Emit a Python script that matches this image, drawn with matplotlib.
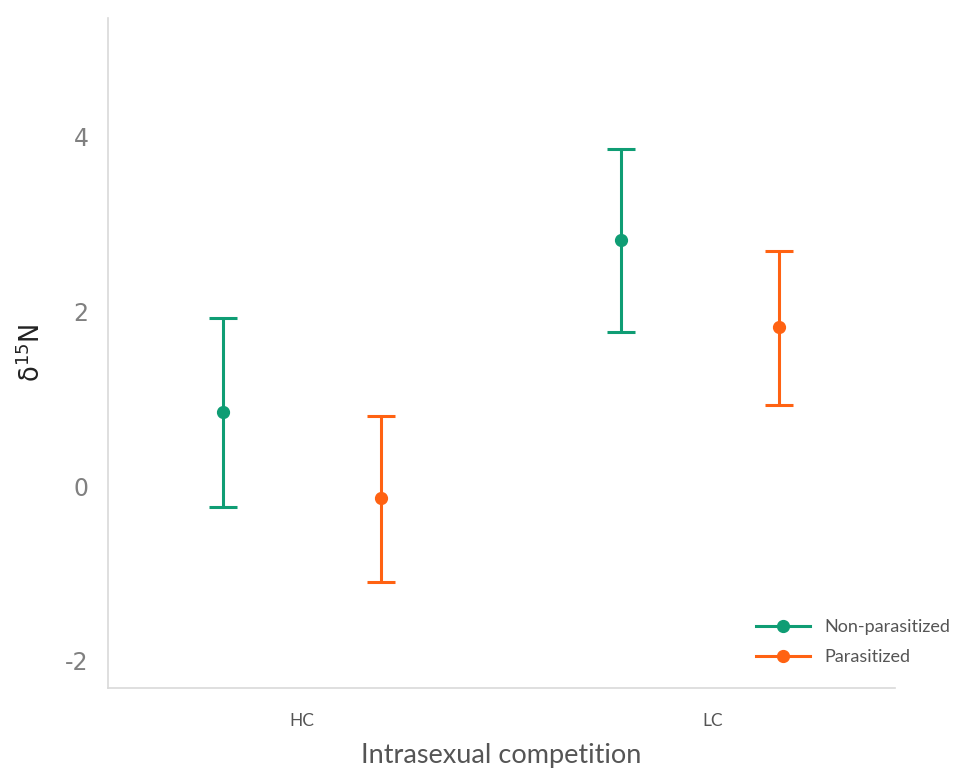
import matplotlib.pyplot as plt
import numpy as np
from matplotlib.lines import Line2D

# data
groups = ["HC", "LC"]
series = ["Non-parasitized", "Parasitized"]
means = {"Non-parasitized": [0.85, 2.82], "Parasitized": [-0.14, 1.82]}
upper = {"Non-parasitized": [1.92, 3.86], "Parasitized": [0.80, 2.69]}
lower = {"Non-parasitized": [-0.24, 1.76], "Parasitized": [-1.10, 0.93]}
colors = {"Non-parasitized": "#0f9d74", "Parasitized": "#ff6212"}
offsets = {"Non-parasitized": -0.198, "Parasitized": 0.198}

plt.rcParams['font.family'] = ['Lato', 'DejaVu Sans']

fig = plt.figure(figsize=(9.57, 7.71), dpi=100)
ax = fig.add_axes([0.1129, 0.1077, 0.822, 0.869])

x = np.arange(len(groups))
for s in series:
    m = np.array(means[s])
    err = [m - np.array(lower[s]), np.array(upper[s]) - m]
    ax.errorbar(x + offsets[s], m, yerr=err, fmt='o', color=colors[s],
                ms=8.5, elinewidth=2.2, capsize=10, capthick=2.2, label=s)

ax.set_xlim(-0.487, 1.488)
ax.set_ylim(-2.31, 5.36)
ax.set_xticks(x + np.array([0, 0.03]))
ax.set_xticklabels(groups, fontsize=12.5, color="#555555")
ax.set_yticks([-2, 0, 2, 4])
ax.set_yticklabels(["-2", "0", "2", "4"], fontsize=17, color="#808080",
                   family=['DejaVu Sans'])
ax.tick_params(length=0, pad=14)
ax.tick_params(axis='x', pad=18)
for sp in ['top', 'right']:
    ax.spines[sp].set_visible(False)
for sp in ['left', 'bottom']:
    ax.spines[sp].set_color("#d9d9d9")
    ax.spines[sp].set_linewidth(1.2)

ax.set_ylabel("δ$^{15}$N", fontsize=18.5, color="#222222", labelpad=14,
              family=['DejaVu Sans'])
ax.set_xlabel("Intrasexual competition", fontsize=19.5, color="#555555",
              labelpad=10)

handles = [Line2D([], [], color=colors[s], marker='o', ms=8.5, lw=2.2) for s in series]
leg = ax.legend(handles, series, loc='lower right', frameon=False, fontsize=13,
                handlelength=3.0, bbox_to_anchor=(1.091, 0.01), labelspacing=0.75)
for t in leg.get_texts():
    t.set_color("#555555")

plt.savefig('out.png', dpi=100)
